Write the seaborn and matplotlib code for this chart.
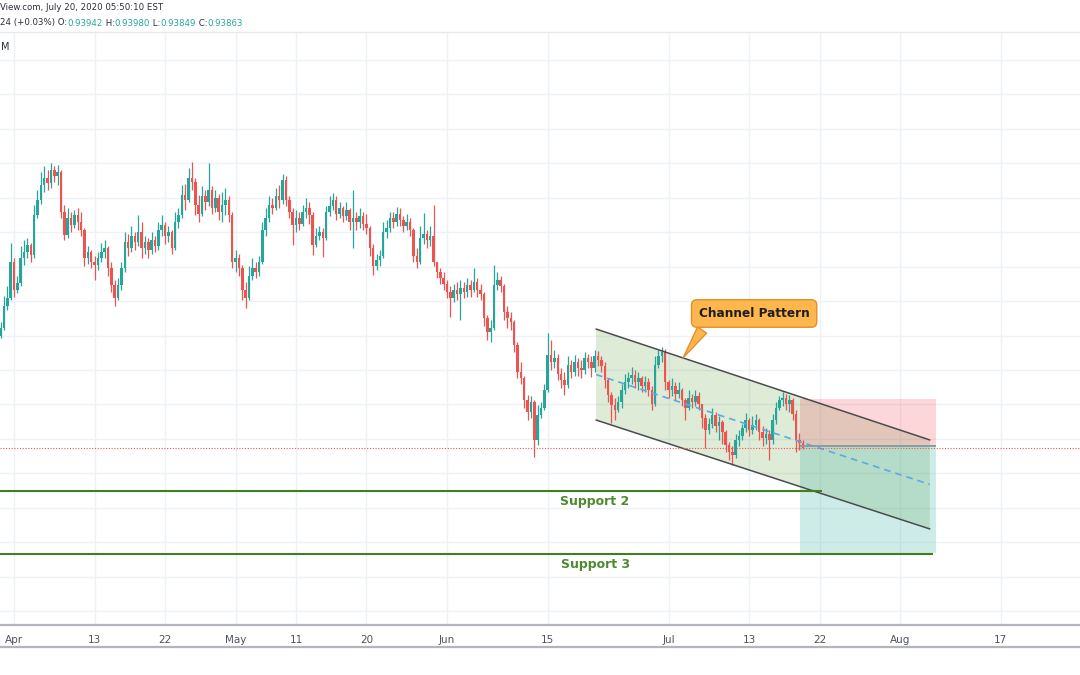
import numpy as np
import pandas as pd
import matplotlib
matplotlib.use("Agg")
import matplotlib.pyplot as plt
import seaborn as sns

# USDCHF, three bars per trading day, x = trading days since Apr 1 2020
first_open = 0.9549
close = [
    0.9561, 0.9593, 0.9604, 0.9657, 0.9616, 0.9626, 0.9662, 0.9671, 0.9681, 0.9667, 0.9725, 0.9747, 0.9768, 0.9778, 0.9771, 0.9790, 0.9781, 0.9787,
    0.9729, 0.9696, 0.9720, 0.9710, 0.9725, 0.9715, 0.9703, 0.9662, 0.9671, 0.9657, 0.9652, 0.9662,
    0.9671, 0.9677, 0.9648, 0.9623, 0.9604, 0.9623, 0.9648, 0.9686, 0.9677, 0.9694, 0.9686, 0.9700, 0.9677, 0.9686, 0.9674, 0.9689, 0.9680, 0.9703,
    0.9710, 0.9694, 0.9700, 0.9677, 0.9715, 0.9725, 0.9754, 0.9747, 0.9778, 0.9773, 0.9739, 0.9726, 0.9752, 0.9744, 0.9761, 0.9735, 0.9749, 0.9729, 0.9739, 0.9747, 0.9725,
    0.9657, 0.9662, 0.9648, 0.9616, 0.9604, 0.9636, 0.9648, 0.9642, 0.9657, 0.9703, 0.9720, 0.9739, 0.9735, 0.9752, 0.9747, 0.9776,
    0.9747, 0.9729, 0.9710, 0.9720, 0.9712, 0.9729, 0.9735, 0.9725, 0.9681, 0.9694, 0.9700, 0.9691, 0.9729, 0.9738, 0.9747, 0.9726, 0.9735, 0.9723, 0.9732, 0.9715, 0.9720,
    0.9715, 0.9723, 0.9712, 0.9706, 0.9677, 0.9651, 0.9660, 0.9665, 0.9700, 0.9706, 0.9720, 0.9715, 0.9726, 0.9718, 0.9709, 0.9715, 0.9703, 0.9665, 0.9657, 0.9691, 0.9697, 0.9689, 0.9694, 0.9657,
    0.9642, 0.9633, 0.9625, 0.9613, 0.9604, 0.9616, 0.9610, 0.9619, 0.9613, 0.9623, 0.9616, 0.9628, 0.9616, 0.9610, 0.9575, 0.9555, 0.9561, 0.9623, 0.9631, 0.9622, 0.9584, 0.9575, 0.9570, 0.9536,
    0.9497, 0.9488, 0.9457, 0.9439, 0.9454, 0.9399, 0.9435, 0.9445, 0.9471, 0.9522, 0.9512, 0.9517, 0.9494, 0.9486, 0.9478, 0.9507, 0.9497, 0.9512, 0.9503, 0.9500, 0.9517, 0.9512, 0.9503, 0.9520, 0.9515,
    0.9506, 0.9486, 0.9464, 0.9449, 0.9442, 0.9454, 0.9471, 0.9483, 0.9488, 0.9493, 0.9483, 0.9488, 0.9477, 0.9483, 0.9471, 0.9451, 0.9507, 0.9520, 0.9526, 0.9483, 0.9471, 0.9477, 0.9465, 0.9471, 0.9457, 0.9445, 0.9459, 0.9454, 0.9462, 0.9451,
    0.9430, 0.9413, 0.9422, 0.9435, 0.9419, 0.9425, 0.9410, 0.9391, 0.9381, 0.9377, 0.9399, 0.9404, 0.9416, 0.9428, 0.9413, 0.9420, 0.9428, 0.9410, 0.9401, 0.9407, 0.9399, 0.9428, 0.9445, 0.9457, 0.9459, 0.9451, 0.9457, 0.9436, 0.9399, 0.93942, 0.93863,
]
high = [
    0.9570, 0.9607, 0.9622, 0.9684, 0.9662, 0.9636, 0.9680, 0.9689, 0.9691, 0.9684, 0.9739, 0.9761, 0.9787, 0.9796, 0.9790, 0.9800, 0.9796, 0.9797,
    0.9790, 0.9739, 0.9735, 0.9729, 0.9732, 0.9735, 0.9729, 0.9706, 0.9680, 0.9674, 0.9665, 0.9671,
    0.9684, 0.9689, 0.9680, 0.9657, 0.9631, 0.9633, 0.9657, 0.9700, 0.9697, 0.9709, 0.9700, 0.9725, 0.9715, 0.9694, 0.9691, 0.9700, 0.9694, 0.9715,
    0.9725, 0.9715, 0.9709, 0.9703, 0.9729, 0.9735, 0.9768, 0.9770, 0.9793, 0.9802, 0.9778, 0.9754, 0.9767, 0.9761, 0.9800, 0.9767, 0.9761, 0.9755, 0.9758, 0.9764, 0.9752,
    0.9729, 0.9674, 0.9668, 0.9652, 0.9628, 0.9651, 0.9662, 0.9657, 0.9665, 0.9715, 0.9735, 0.9752, 0.9749, 0.9764, 0.9768, 0.9784,
    0.9781, 0.9752, 0.9735, 0.9732, 0.9729, 0.9739, 0.9749, 0.9744, 0.9729, 0.9706, 0.9709, 0.9706, 0.9738, 0.9752, 0.9757, 0.9752, 0.9744, 0.9738, 0.9744, 0.9735, 0.9761,
    0.9729, 0.9735, 0.9729, 0.9726, 0.9709, 0.9683, 0.9668, 0.9674, 0.9715, 0.9718, 0.9729, 0.9729, 0.9736, 0.9735, 0.9723, 0.9726, 0.9720, 0.9706, 0.9677, 0.9709, 0.9728, 0.9703, 0.9709, 0.9739,
    0.9657, 0.9648, 0.9642, 0.9631, 0.9622, 0.9625, 0.9628, 0.9631, 0.9628, 0.9633, 0.9631, 0.9648, 0.9633, 0.9625, 0.9613, 0.9580, 0.9573, 0.9652, 0.9642, 0.9636, 0.9625, 0.9593, 0.9584, 0.9573,
    0.9540, 0.9512, 0.9491, 0.9464, 0.9462, 0.9457, 0.9449, 0.9454, 0.9480, 0.9554, 0.9544, 0.9529, 0.9523, 0.9503, 0.9497, 0.9520, 0.9515, 0.9522, 0.9517, 0.9515, 0.9526, 0.9523, 0.9520, 0.9529, 0.9528,
    0.9520, 0.9512, 0.9488, 0.9468, 0.9459, 0.9462, 0.9480, 0.9494, 0.9497, 0.9504, 0.9500, 0.9497, 0.9491, 0.9491, 0.9488, 0.9477, 0.9520, 0.9529, 0.9533, 0.9530, 0.9486, 0.9488, 0.9483, 0.9483, 0.9474, 0.9459, 0.9471, 0.9465, 0.9471, 0.9468,
    0.9451, 0.9436, 0.9430, 0.9445, 0.9439, 0.9433, 0.9428, 0.9413, 0.9396, 0.9390, 0.9407, 0.9413, 0.9422, 0.9438, 0.9430, 0.9433, 0.9436, 0.9430, 0.9419, 0.9416, 0.9413, 0.9436, 0.9454, 0.9462, 0.9468, 0.9465, 0.9464, 0.9459, 0.9442, 0.9409, 0.93980,
]
low = [
    0.9546, 0.9558, 0.9587, 0.9602, 0.9606, 0.9612, 0.9622, 0.9652, 0.9662, 0.9657, 0.9662, 0.9720, 0.9741, 0.9758, 0.9761, 0.9764, 0.9773, 0.9768,
    0.9720, 0.9689, 0.9691, 0.9700, 0.9706, 0.9703, 0.9694, 0.9651, 0.9654, 0.9648, 0.9631, 0.9645,
    0.9657, 0.9662, 0.9636, 0.9613, 0.9593, 0.9602, 0.9616, 0.9642, 0.9665, 0.9671, 0.9674, 0.9680, 0.9662, 0.9668, 0.9662, 0.9668, 0.9671, 0.9674,
    0.9694, 0.9683, 0.9686, 0.9668, 0.9674, 0.9706, 0.9720, 0.9732, 0.9744, 0.9761, 0.9725, 0.9715, 0.9723, 0.9732, 0.9738, 0.9726, 0.9729, 0.9718, 0.9715, 0.9725, 0.9715,
    0.9648, 0.9642, 0.9636, 0.9602, 0.9590, 0.9602, 0.9631, 0.9633, 0.9636, 0.9654, 0.9694, 0.9715, 0.9726, 0.9732, 0.9735, 0.9741,
    0.9738, 0.9720, 0.9681, 0.9700, 0.9703, 0.9709, 0.9720, 0.9712, 0.9667, 0.9678, 0.9689, 0.9664, 0.9689, 0.9723, 0.9732, 0.9718, 0.9720, 0.9715, 0.9718, 0.9703, 0.9677,
    0.9703, 0.9706, 0.9703, 0.9697, 0.9665, 0.9638, 0.9645, 0.9651, 0.9662, 0.9691, 0.9700, 0.9706, 0.9709, 0.9709, 0.9700, 0.9703, 0.9694, 0.9657, 0.9648, 0.9654, 0.9683, 0.9677, 0.9680, 0.9651,
    0.9633, 0.9625, 0.9616, 0.9604, 0.9577, 0.9599, 0.9602, 0.9573, 0.9604, 0.9606, 0.9606, 0.9613, 0.9606, 0.9602, 0.9564, 0.9544, 0.9541, 0.9558, 0.9616, 0.9613, 0.9573, 0.9561, 0.9558, 0.9526,
    0.9488, 0.9480, 0.9445, 0.9428, 0.9430, 0.9374, 0.9391, 0.9430, 0.9442, 0.9468, 0.9500, 0.9503, 0.9486, 0.9474, 0.9464, 0.9474, 0.9488, 0.9491, 0.9491, 0.9488, 0.9494, 0.9503, 0.9490, 0.9497, 0.9506,
    0.9497, 0.9474, 0.9454, 0.9423, 0.9428, 0.9439, 0.9445, 0.9465, 0.9474, 0.9480, 0.9474, 0.9471, 0.9468, 0.9468, 0.9462, 0.9442, 0.9448, 0.9503, 0.9512, 0.9471, 0.9459, 0.9462, 0.9457, 0.9459, 0.9448, 0.9428, 0.9442, 0.9445, 0.9448, 0.9442,
    0.9416, 0.9387, 0.9407, 0.9416, 0.9410, 0.9399, 0.9393, 0.9381, 0.9370, 0.9362, 0.9372, 0.9390, 0.9399, 0.9410, 0.9404, 0.9407, 0.9413, 0.9399, 0.9390, 0.9393, 0.9370, 0.9393, 0.9422, 0.9442, 0.9448, 0.9442, 0.9439, 0.9428, 0.9381, 0.9384, 0.93849,
]
first_bar_day = -4 / 3
bars_per_day = 3

tick_days = [0, 8, 15, 22, 28, 35, 43, 53, 65, 73, 80, 88, 98]
tick_labels = ["Apr", "13", "22", "May", "11", "20", "Jun", "15", "Jul", "13", "22", "Aug", "17"]

# drawings (trading-day index, price)
channel_days = [57.8, 90.95]
channel_upper = [0.95594, 0.93986]
channel_lower = [0.94275, 0.92696]
pos_days = [78.05, 91.55]
pos_entry, pos_stop, pos_target = 0.93899, 0.94580, 0.92348
support2, support2_end = 0.93246, 80.2
support3, support3_end = 0.92333, 91.3
last_close = 0.93863
callout_xy = (66.3, 0.95145)
callout_text_xy = (73.5, 0.95819)

header1 = "View.com, July 20, 2020 05:50:10 EST"
header2 = [("24 (+0.03%) O:", "#2a2e39"), ("0.93942", "#26a69a"), (" H:", "#2a2e39"), ("0.93980", "#26a69a"),
           (" L:", "#2a2e39"), ("0.93849", "#26a69a"), (" C:", "#2a2e39"), ("0.93863", "#26a69a")]

df = pd.DataFrame({"close": close, "high": high, "low": low})
df["open"] = [first_open] + close[:-1]
df["t"] = first_bar_day + np.arange(len(df)) / bars_per_day
df["high"] = df[["high", "open", "close"]].max(axis=1)
df["low"] = df[["low", "open", "close"]].min(axis=1)
df["up"] = df["close"] >= df["open"]

sns.set_style("white")
plt.rcParams["font.family"] = ["DejaVu Sans"]

W, H = 1080, 675
fig = plt.figure(figsize=(W / 100, H / 100), dpi=100)
ax = fig.add_axes([0, 1 - 625 / H, 1, (625 - 32) / H])
ax.set_xlim(-1.39, 105.86)
ax.set_ylim(0.91304, 0.99899)

# grid
ax.set_yticks(np.arange(0.915, 0.9951, 0.005))
ax.set_xticks(tick_days)
ax.set_xticklabels(tick_labels)
ax.grid(True, color="#eef1f6", lw=1, zorder=0)
ax.tick_params(axis="y", left=False, labelleft=False)
ax.tick_params(axis="x", direction="out", length=3, width=1, color="#b2b5be",
               labelcolor="#50535e", labelsize=7.5, pad=4)
for s in ["left", "right"]:
    ax.spines[s].set_visible(False)
ax.spines["top"].set_color("#e6e9ef")
ax.spines["top"].set_linewidth(1)
ax.spines["bottom"].set_color("#b2b5be")
ax.spines["bottom"].set_linewidth(1.6)
fig.add_artist(plt.Line2D([0, 1], [1 - 647 / H] * 2, color="#b2b5be", lw=1.6))

# channel
ax.fill(channel_days + channel_days[::-1], channel_upper + channel_lower[::-1],
        color="#5a9e3a", alpha=0.2, lw=0, zorder=1)

# long position tool
ax.fill_between(pos_days, pos_entry, pos_stop, color="#f23645", alpha=0.2, lw=0, zorder=1.2)
ax.fill_between(pos_days, pos_target, pos_entry, color="#22ab94", alpha=0.22, lw=0, zorder=1.2)

# candles
colors = np.where(df["up"], "#26a69a", "#ef5350")
ax.vlines(df["t"], df["low"], df["high"], colors=colors, lw=0.9, zorder=3)
body = (df["close"] - df["open"]).to_numpy()
body = np.where(np.abs(body) < 0.00004, 0.00004, body)
ax.bar(df["t"], body, bottom=df["open"], width=0.25, color=colors, lw=0, zorder=3)

# channel lines
ax.plot(channel_days, channel_upper, color="#4b4b4b", lw=1.1, zorder=4)
ax.plot(channel_days, channel_lower, color="#4b4b4b", lw=1.1, zorder=4)
mid = [(u + l) / 2 for u, l in zip(channel_upper, channel_lower)]
sns.lineplot(x=channel_days, y=mid, ax=ax, color="#5aaae6", lw=1.2, linestyle=(0, (4, 3)), zorder=4)

ax.hlines(pos_entry, pos_days[0], pos_days[1], color="#8c9ba5", lw=1.4, zorder=4)

# supports
ax.hlines(support2, -1.39, support2_end, color="#3f7f1f", lw=1.5, zorder=4)
ax.hlines(support3, -1.39, support3_end, color="#3f7f1f", lw=1.5, zorder=4)
ax.text(57.7, 0.93101, "Support 2", ha="center", va="center", color="#4d8a2e",
        fontsize=9, fontweight="bold", zorder=5)
ax.text(57.8, 0.92174, "Support 3", ha="center", va="center", color="#4d8a2e",
        fontsize=9, fontweight="bold", zorder=5)

# last price
ax.axhline(last_close, color="#ef5350", lw=0.8, ls=(0, (1, 1.5)), zorder=5)

# callout
ax.annotate("Channel Pattern", xy=callout_xy, xytext=callout_text_xy, ha="center", va="center",
            fontsize=8.7, fontweight="bold", color="#1e1e1e", zorder=6,
            bbox=dict(boxstyle="round,pad=0.6,rounding_size=0.45", fc="#ffb74d", ec="#e0902a", lw=1),
            arrowprops=dict(arrowstyle="wedge,tail_width=0.9,shrink_factor=0.5", fc="#ffb74d",
                            ec="#e0902a", lw=1, relpos=(0.1, 0.1)))

# header
fig.text(0.0, 1 - 8 / H, header1, fontsize=6.2, color="#2a2e39", ha="left", va="center")
renderer = fig.canvas.get_renderer()
x = 0.0
for txt, col in header2:
    t = fig.text(x, 1 - 23 / H, txt, fontsize=6.2, color=col, ha="left", va="center")
    x += t.get_window_extent(renderer).width / W
fig.text(0.001, 1 - 47 / H, "M", fontsize=7, color="#2a2e39", ha="left", va="center")

fig.savefig("out.png", dpi=100)
